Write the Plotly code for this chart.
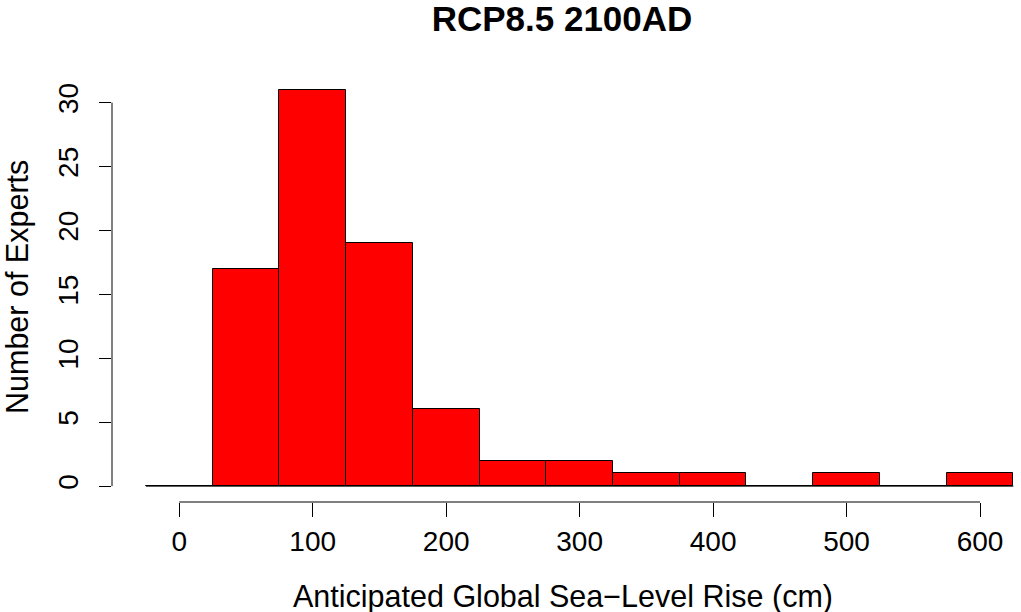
import plotly.graph_objects as go

# Histogram data (bin edges in cm, counts of experts)
bin_edges = [-25, 25, 75, 125, 175, 225, 275, 325, 375, 425, 475, 525, 575, 625]
counts = [0, 17, 31, 19, 6, 2, 2, 1, 1, 0, 1, 0, 1]
x_ticks = [0, 100, 200, 300, 400, 500, 600]
y_ticks = [0, 5, 10, 15, 20, 25, 30]
title_text = "RCP8.5 2100AD"
x_title = "Anticipated Global Sea\u2212Level Rise (cm)"
y_title = "Number of Experts"

centers = [(a + b) / 2 for a, b in zip(bin_edges[:-1], bin_edges[1:])]
widths = [b - a for a, b in zip(bin_edges[:-1], bin_edges[1:])]

W, H = 1021, 612
L, R, T, B = 112, 0, 74, 110
FONT = "Liberation Sans, Arial, sans-serif"

fig = go.Figure()
fig.add_trace(go.Bar(
    x=centers, y=counts, width=widths,
    marker=dict(color="#FF0000", line=dict(color="black", width=1)),
    hoverinfo="x+y", showlegend=False,
))
# zero-height bins / baseline as drawn by R's hist
fig.add_trace(go.Scatter(
    x=[bin_edges[0], bin_edges[-1]], y=[0, 0], mode="lines",
    line=dict(color="black", width=1), showlegend=False, hoverinfo="skip",
))

fig.update_layout(
    width=W, height=H,
    margin=dict(l=L, r=R, t=T, b=B),
    paper_bgcolor="white", plot_bgcolor="white",
    font=dict(family=FONT, size=28, color="black"),
    bargap=0,
    title=dict(text="<b>" + title_text + "</b>", font=dict(size=35, family=FONT),
               xref="container", yref="container", x=562 / W, y=1 - 19 / H,
               xanchor="center", yanchor="middle"),
    xaxis=dict(range=[-50.4, 630.7], tickvals=x_ticks, ticktext=[str(v) for v in x_ticks],
               ticks="outside", ticklen=14, tickwidth=1, tickcolor="black",
               showline=False, showgrid=False, zeroline=False,
               tickfont=dict(size=28), ticklabelstandoff=0),
    yaxis=dict(range=[-1.24, 32.24], tickvals=y_ticks, ticktext=[str(v) for v in y_ticks],
               ticks="outside", ticklen=12, tickwidth=1, tickcolor="black",
               showline=False, showgrid=False, zeroline=False,
               tickangle=-90, tickfont=dict(size=28), ticklabelstandoff=10),
    shapes=[
        dict(type="line", xref="x", yref="paper", x0=min(x_ticks), x1=max(x_ticks), y0=0, y1=0,
             line=dict(color="black", width=1)),
        dict(type="line", xref="paper", yref="y", x0=0, x1=0, y0=min(y_ticks), y1=max(y_ticks),
             line=dict(color="black", width=1)),
    ],
    annotations=[
        dict(text=x_title, xref="paper", yref="paper", x=(563 - L) / (W - L - R),
             y=-(596 - (H - B)) / (H - T - B), xanchor="center", yanchor="middle",
             showarrow=False, font=dict(size=30.5, family=FONT)),
        dict(text=y_title, xref="paper", yref="paper", x=-(L - 17) / (W - L - R),
             y=(H - B - 287) / (H - T - B), xanchor="center", yanchor="middle",
             textangle=-90, showarrow=False, font=dict(size=30.5, family=FONT)),
    ],
)

fig.write_html("out.html", config={"displayModeBar": False},
               post_script="document.body.style.margin='0';document.body.style.overflow='hidden';")
